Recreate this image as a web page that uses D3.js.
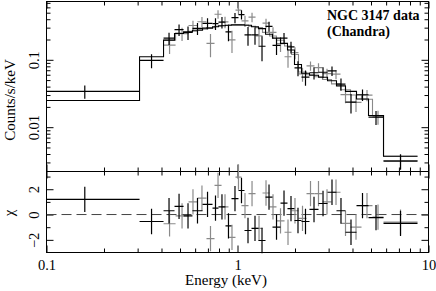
<!DOCTYPE html>
<html>
<head>
<meta charset="utf-8">
<script src="https://cdn.jsdelivr.net/npm/d3@7"></script>
<style>
body { margin: 0; background: #fff; }
svg { display: block; font-family: "Liberation Serif", "Times New Roman", serif; }
.axis path.domain { display: none; }
.axis line { stroke: #000; }
.axis text { font-size: 14.5px; fill: #000; font-family: "Liberation Serif", serif; }
.frame { fill: none; stroke: #000; }
.label { font-size: 15px; fill: #000; }
.note { font-size: 14px; font-weight: bold; fill: #000; }
</style>
</head>
<body>
<script>
// black data set: bin edges (keV), rate, 1 sigma error, folded model, delchi
var blackEdges = [0.082, 0.307, 0.410, 0.468, 0.522, 0.581, 0.656, 0.740, 0.795, 0.865, 0.930, 1.012, 1.088, 1.184, 1.288, 1.402, 1.525, 1.680, 1.827, 1.988, 2.163, 2.382, 2.656, 2.960, 3.298, 3.676, 4.198, 4.852, 5.814, 8.76]
var blackRate = [0.034, 0.098, 0.209, 0.280, 0.254, 0.293, 0.347, 0.344, 0.362, 0.260, 0.422, 0.469, 0.234, 0.235, 0.159, 0.313, 0.164, 0.210, 0.155, 0.076, 0.0553, 0.0642, 0.0654, 0.0684, 0.0437, 0.0235, 0.0303, 0.0141, 0.00314]
var blackErr = [0.0075, 0.023, 0.043, 0.054, 0.057, 0.06, 0.065, 0.068, 0.07, 0.072, 0.073, 0.073, 0.072, 0.068, 0.064, 0.053, 0.046, 0.039, 0.031, 0.019, 0.014, 0.013, 0.012, 0.011, 0.009, 0.0075, 0.0058, 0.0033, 0.0008]
var blackModel = [0.0249, 0.111, 0.196, 0.245, 0.26, 0.275, 0.295, 0.31, 0.32, 0.325, 0.33, 0.33, 0.325, 0.31, 0.29, 0.24, 0.21, 0.175, 0.14, 0.085, 0.063, 0.059, 0.055, 0.049, 0.041, 0.034, 0.0262, 0.0149, 0.0037]
var blackChi = [1.2, -0.55, 0.3, 0.65, -0.1, 0.3, 0.8, 0.5, 0.6, -0.9, 1.26, 1.9, -1.26, -1.1, -2.05, 1.37, -1.0, 0.9, 0.47, -0.47, -0.55, 0.4, 0.87, 1.76, 0.3, -1.4, 0.7, -0.25, -0.7]

// gray data set
var grayEdges = [0.410, 0.474, 0.554, 0.617, 0.688, 0.758, 0.825, 0.897, 0.976, 1.049, 1.142, 1.243, 1.352, 1.471, 1.600, 1.763, 1.917, 2.086, 2.298, 2.530, 2.786, 3.106, 3.462, 3.905, 4.459, 5.091, 5.814, 8.76]
var grayRate = [0.165, 0.2445, 0.323, 0.367, 0.175, 0.474, 0.365, 0.198, 0.545, 0.378, 0.429, 0.227, 0.350, 0.255, 0.1735, 0.111, 0.128, 0.0617, 0.0815, 0.0763, 0.0622, 0.0611, 0.0305, 0.0234, 0.030, 0.0142, 0.0032]
var grayErr = [0.043, 0.055, 0.058, 0.063, 0.066, 0.069, 0.071, 0.072, 0.073, 0.072, 0.069, 0.066, 0.056, 0.05, 0.043, 0.035, 0.026, 0.0145, 0.013, 0.0123, 0.0112, 0.0097, 0.0079, 0.0066, 0.0057, 0.0033, 0.0008]
var grayModel = [0.196, 0.25, 0.265, 0.285, 0.30, 0.315, 0.322, 0.328, 0.33, 0.328, 0.315, 0.30, 0.255, 0.225, 0.195, 0.16, 0.12, 0.066, 0.06, 0.056, 0.051, 0.044, 0.036, 0.03, 0.026, 0.0149, 0.0037]
var grayChi = [-0.73, -0.1, 1.0, 1.3, -1.9, 2.3, 0.6, -1.8, 2.95, 0.7, 1.65, -1.1, 1.7, 0.6, -0.5, -1.4, 0.3, -0.3, 1.65, 1.65, 1.0, 1.76, -0.7, -1.0, 0.7, -0.2, -0.6]

// ticks
var energyMajor = [0.1, 1, 10]
var energyLabels = ["0.1", "1", "10"]
var energyMinor = [0.2, 0.3, 0.4, 0.5, 0.6, 0.7, 0.8, 0.9, 2, 3, 4, 5, 6, 7, 8, 9]
var rateMajor = [0.01, 0.1]
var rateLabels = ["0.01", "0.1"]
var rateMinor = [0.003, 0.004, 0.005, 0.006, 0.007, 0.008, 0.009, 0.02, 0.03, 0.04, 0.05, 0.06, 0.07, 0.08, 0.09, 0.2, 0.3, 0.4, 0.5, 0.6, 0.7]
var chiMajor = [-2, 0, 2]
var chiLabels = ["\u22122", "0", "2"]
var chiMinor = [-1, 1, 3]

var width = 436, height = 291
var left = 46, right = 428, plotTop = 1, mid = 171, bottom = 252
var majorLen = 7, minorLen = 4

var x = d3.scaleLog().domain([0.1, 10]).range([left, right])
var y = d3.scaleLog().domain([0.0022, 0.733]).range([mid, plotTop])
var yChi = d3.scaleLinear().domain([-3, 3.4]).range([bottom, mid])

var svg = d3.select("body").append("svg")
    .attr("width", width)
    .attr("height", height)

svg.append("defs").append("clipPath").attr("id", "clipx")
    .append("rect").attr("x", left).attr("y", -10).attr("width", right - left).attr("height", height + 20)

var g = svg.append("g").attr("transform", "translate(0.5,0.5)")

function addAxis(axisFn, scale, values, len, pos, labels) {
    var ax = axisFn(scale).tickValues(values).tickSizeInner(-len).tickSizeOuter(0)
    if (labels) ax.tickFormat(function(d, i) { return labels[i] })
    else ax.tickFormat("")
    var el = g.append("g").attr("class", "axis").attr("transform", pos).call(ax)
    return el
}

// x axes: every panel edge gets inward ticks
var xEdges = [
    [d3.axisTop, "translate(0," + plotTop + ")"],
    [d3.axisBottom, "translate(0," + mid + ")"],
    [d3.axisTop, "translate(0," + mid + ")"]
]
xEdges.forEach(function(e) {
    addAxis(e[0], x, energyMinor, minorLen, e[1])
    addAxis(e[0], x, energyMajor, majorLen, e[1])
})
addAxis(d3.axisBottom, x, energyMinor, minorLen, "translate(0," + bottom + ")")
addAxis(d3.axisBottom, x, energyMajor, majorLen, "translate(0," + bottom + ")", energyLabels)
    .call(ax => ax.selectAll("text").attr("y", 7))

// y axes, upper panel
addAxis(d3.axisLeft, y, rateMinor, minorLen, "translate(" + left + ",0)")
addAxis(d3.axisLeft, y, rateMajor, majorLen, "translate(" + left + ",0)", rateLabels)
    .call(ax => ax.selectAll("text").attr("x", null).attr("dy", null)
        .attr("transform", "translate(-8,0) rotate(-90)").style("text-anchor", "middle"))
addAxis(d3.axisRight, y, rateMinor, minorLen, "translate(" + right + ",0)")
addAxis(d3.axisRight, y, rateMajor, majorLen, "translate(" + right + ",0)")

// y axes, residual panel
addAxis(d3.axisLeft, yChi, chiMinor, minorLen, "translate(" + left + ",0)")
addAxis(d3.axisLeft, yChi, chiMajor, majorLen, "translate(" + left + ",0)", chiLabels)
    .call(ax => ax.selectAll("text").attr("x", null).attr("dy", null)
        .attr("transform", "translate(-8,0) rotate(-90)").style("text-anchor", "middle"))
addAxis(d3.axisRight, yChi, chiMinor, minorLen, "translate(" + right + ",0)")
addAxis(d3.axisRight, yChi, chiMajor, majorLen, "translate(" + right + ",0)")

// frames
g.append("rect").attr("class", "frame").attr("x", left).attr("y", plotTop).attr("width", right - left).attr("height", mid - plotTop)
g.append("rect").attr("class", "frame").attr("x", left).attr("y", mid).attr("width", right - left).attr("height", bottom - mid)

var plot = g.append("g").attr("clip-path", "url(#clipx)")

// zero line in the residual panel
plot.append("line")
    .attr("x1", x(0.1)).attr("x2", x(10))
    .attr("y1", yChi(0)).attr("y2", yChi(0))
    .attr("stroke", "#444").attr("stroke-dasharray", "10,5")

var sets = [
    {edges: grayEdges, rate: grayRate, err: grayErr, model: grayModel, chi: grayChi, color: "#8a8a8a"},
    {edges: blackEdges, rate: blackRate, err: blackErr, model: blackModel, chi: blackChi, color: "#000"}
]

var step = d3.line().x(d => x(d[0])).y(d => y(d[1]))

sets.forEach(function(s) {
    var bins = s.rate.map(function(r, i) {
        return {lo: s.edges[i], hi: s.edges[i + 1], e: Math.sqrt(s.edges[i] * s.edges[i + 1]),
                rate: r, err: s.err[i], model: s.model[i], chi: s.chi[i]}
    })
    var pts = []
    bins.forEach(function(b) { pts.push([b.lo, b.model]); pts.push([b.hi, b.model]) })
    plot.append("path").attr("d", step(pts))
        .attr("fill", "none").attr("stroke", s.color).attr("stroke-width", 1.1)

    var col = plot.append("g").attr("stroke", s.color).attr("stroke-width", 1.2)
    // spectrum crosses
    col.selectAll("line.h").data(bins).enter().append("line")
        .attr("x1", d => x(d.lo)).attr("x2", d => x(d.hi))
        .attr("y1", d => y(d.rate)).attr("y2", d => y(d.rate))
    col.selectAll("line.v").data(bins).enter().append("line")
        .attr("x1", d => x(d.e)).attr("x2", d => x(d.e))
        .attr("y1", d => y(d.rate + d.err)).attr("y2", d => y(Math.max(d.rate - d.err, 0.0022)))
    // residual crosses
    col.selectAll("line.rh").data(bins).enter().append("line")
        .attr("x1", d => x(d.lo)).attr("x2", d => x(d.hi))
        .attr("y1", d => yChi(d.chi)).attr("y2", d => yChi(d.chi))
    col.selectAll("line.rv").data(bins).enter().append("line")
        .attr("x1", d => x(d.e)).attr("x2", d => x(d.e))
        .attr("y1", d => yChi(d.chi + 1)).attr("y2", d => yChi(d.chi - 1))
})

// labels
svg.append("text").attr("class", "label")
    .attr("transform", "translate(15,100) rotate(-90)")
    .attr("text-anchor", "middle").text("Counts/s/keV")
svg.append("text").attr("class", "label")
    .attr("transform", "translate(14,213) rotate(-90)")
    .attr("text-anchor", "middle").text("\u03c7")
svg.append("text").attr("class", "label")
    .attr("x", 226).attr("y", 285)
    .attr("text-anchor", "middle").text("Energy (keV)")

svg.append("text").attr("class", "note").attr("x", 327).attr("y", 20).text("NGC 3147 data")
svg.append("text").attr("class", "note").attr("x", 327).attr("y", 36).text("(Chandra)")
</script>
</body>
</html>
